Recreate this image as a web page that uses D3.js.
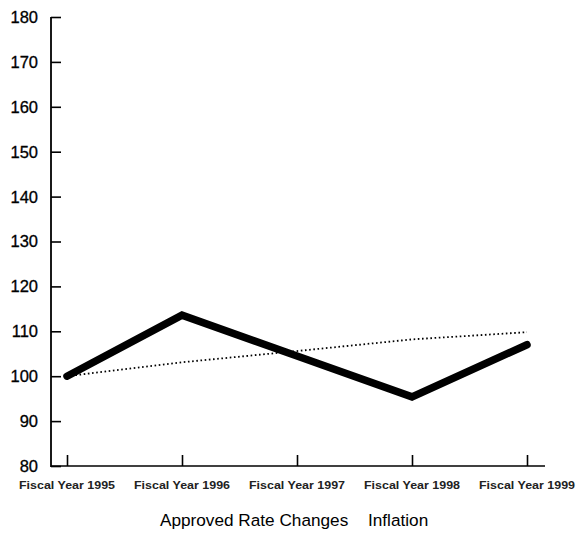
<!DOCTYPE html>
<html><head><meta charset="utf-8">
<script src="https://cdn.jsdelivr.net/npm/d3@7"></script>
<style>body{margin:0;background:#fff;} svg{display:block;}</style>
</head><body>
<svg id="c" width="579" height="544"></svg>
<script>
const categories = ["Fiscal Year 1995","Fiscal Year 1996","Fiscal Year 1997","Fiscal Year 1998","Fiscal Year 1999"];
const approvedRateChanges = [100, 113.6, 104.5, 95.4, 107];
const inflation = [100, 103.1, 105.6, 108.2, 109.8];
const yTicks = [80,90,100,110,120,130,140,150,160,170,180];
const legendLabels = ["Approved Rate Changes", "Inflation"];

const svg = d3.select("#c");
const x = d3.scalePoint().domain(categories).range([67, 527]);
const y = d3.scaleLinear().domain([80, 180]).range([466, 17]);
const axisX = 51;
const font = "Liberation Sans, Arial, sans-serif";

// y axis
const ya = svg.append("g").attr("transform", `translate(${axisX},0)`)
  .call(d3.axisRight(y).tickValues(yTicks).tickSize(10).tickFormat(""));
ya.select(".domain").remove();
ya.selectAll("line").attr("stroke","#000").attr("stroke-width",1.6);
svg.append("line").attr("x1",axisX).attr("x2",axisX).attr("y1",y(180)).attr("y2",y(80)+1)
  .attr("stroke","#000").attr("stroke-width",1.8);
svg.append("g").selectAll("text").data(yTicks).join("text")
  .attr("x", 38).attr("y", d => y(d)).attr("dy","0.36em").attr("text-anchor","end")
  .attr("font-family",font).attr("font-size",16.5).attr("stroke","#000").attr("stroke-width",0.3)
  .attr("fill","#000").text(d => d);

// x axis
svg.append("line").attr("x1",axisX).attr("x2",545).attr("y1",y(80)).attr("y2",y(80))
  .attr("stroke","#000").attr("stroke-width",1.6);
const xa = svg.append("g").attr("transform", `translate(0,${y(80)})`)
  .call(d3.axisTop(x).tickSize(11).tickFormat(""));
xa.select(".domain").remove();
xa.selectAll("line").attr("stroke","#000").attr("stroke-width",1.6);
svg.append("g").selectAll("text").data(categories).join("text")
  .attr("x", d => x(d)).attr("y", 489).attr("text-anchor","middle")
  .attr("font-family",font).attr("font-size",11.5)
  .attr("font-weight","bold").attr("fill","#222").attr("textLength",96).attr("lengthAdjust","spacingAndGlyphs")
  .text(d => d);

const line = d3.line().x((d,i) => x(categories[i])).y(d => y(d));

svg.append("path").datum(inflation).attr("d", line).attr("fill","none")
  .attr("stroke","#000").attr("stroke-width",1.8).attr("stroke-dasharray","1.6 2.6");
svg.append("path").datum(approvedRateChanges).attr("d", line).attr("fill","none")
  .attr("stroke","#000").attr("stroke-width",7.5).attr("stroke-linejoin","miter").attr("stroke-linecap","round");

// legend text
svg.append("text").attr("x", 160).attr("y", 526)
  .attr("font-family",font).attr("font-size",17.2).attr("fill","#000")
  .text(legendLabels[0]);
svg.append("text").attr("x", 368).attr("y", 526)
  .attr("font-family",font).attr("font-size",17.2).attr("fill","#000")
  .text(legendLabels[1]);
</script>
</body></html>
